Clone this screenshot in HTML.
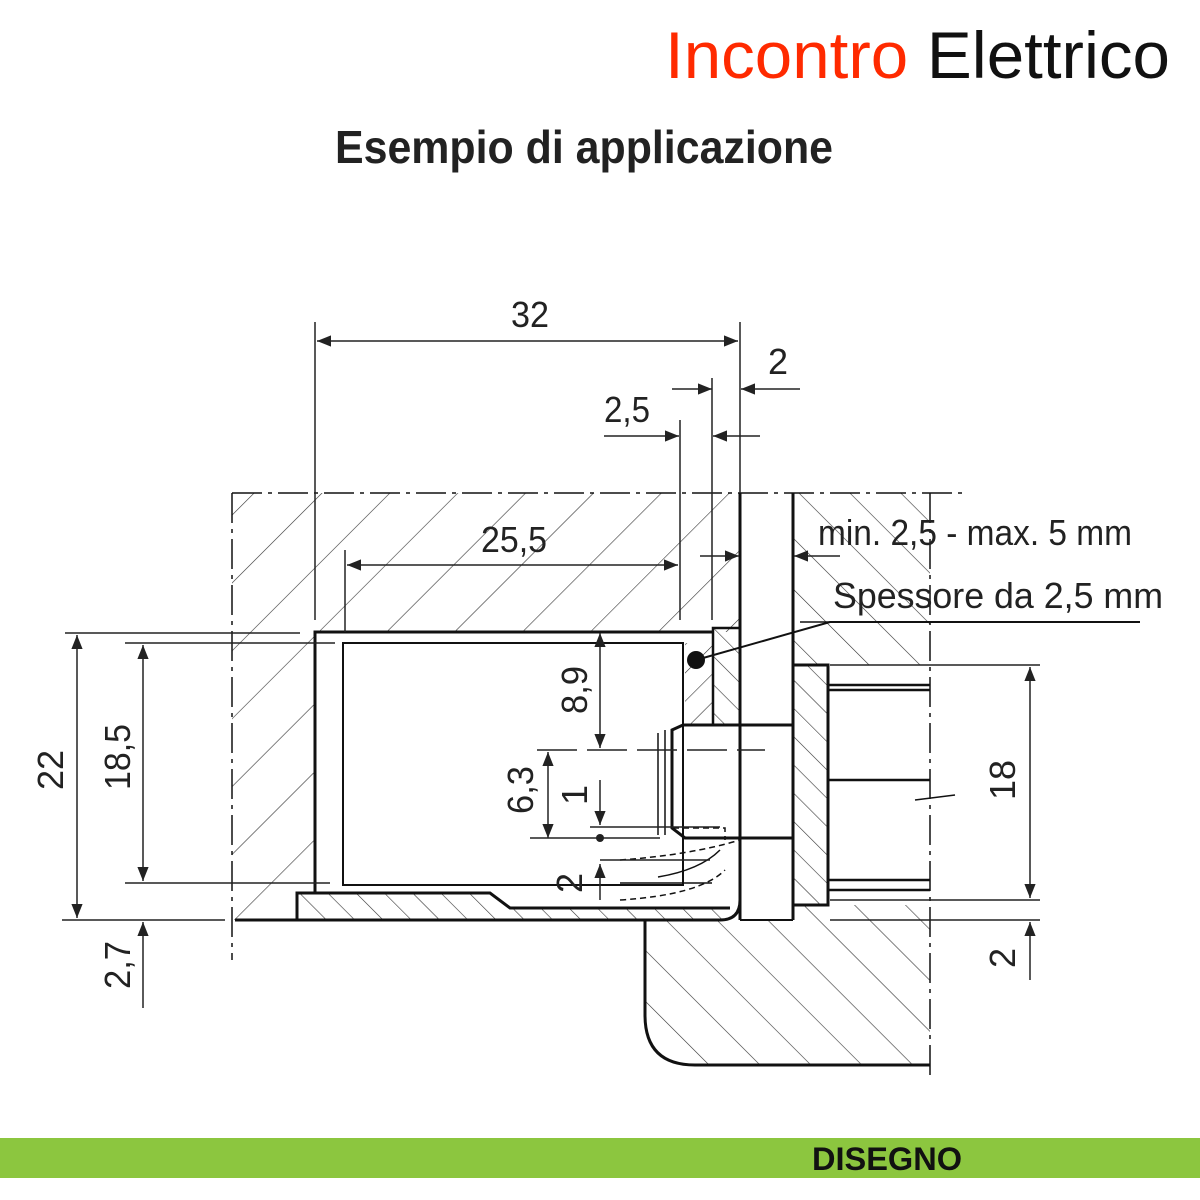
<!DOCTYPE html>
<html><head><meta charset="utf-8"><style>
html,body{margin:0;padding:0;background:#fff}
svg{display:block}
text{font-family:"Liberation Sans",sans-serif}
</style></head><body>
<svg width="1200" height="1200" viewBox="0 0 1200 1200" xmlns="http://www.w3.org/2000/svg">
<defs>
<marker id="a" viewBox="0 0 10 10" refX="10" refY="5" markerWidth="14" markerHeight="14" markerUnits="userSpaceOnUse" orient="auto-start-reverse"><path d="M0,1 L10,5 L0,9z" fill="#222"/></marker>
<pattern id="h1" width="48" height="48" patternUnits="userSpaceOnUse" patternTransform="rotate(45)"><line x1="0" y1="0" x2="0" y2="48" stroke="#333" stroke-width="1.2"/></pattern>
<pattern id="h2" width="36" height="36" patternUnits="userSpaceOnUse" patternTransform="rotate(-45)"><line x1="0" y1="0" x2="0" y2="36" stroke="#333" stroke-width="1.2"/></pattern>
<pattern id="h3" width="20" height="20" patternUnits="userSpaceOnUse" patternTransform="rotate(-45)"><line x1="0" y1="0" x2="0" y2="20" stroke="#333" stroke-width="1.2"/></pattern>
<pattern id="h4" width="20" height="20" patternUnits="userSpaceOnUse" patternTransform="rotate(45)"><line x1="0" y1="0" x2="0" y2="20" stroke="#333" stroke-width="1.2"/></pattern>
</defs>

<text x="665" y="78" font-size="66" textLength="505" lengthAdjust="spacingAndGlyphs"><tspan fill="#ff2a00">Incontro</tspan> <tspan fill="#111">Elettrico</tspan></text>
<text x="335" y="163" font-size="46" font-weight="bold" fill="#222" textLength="498" lengthAdjust="spacingAndGlyphs">Esempio di applicazione</text>

<!-- hatched areas -->
<path d="M232,493 H740 V632 H315 V893 H297 V920 H232Z" fill="url(#h1)"/>
<path d="M297,893 H490 L510,908 H730 V920 H297Z" fill="url(#h3)"/>
<path d="M793,493 H930 V665 H793Z" fill="url(#h2)"/>
<path d="M645,920 H930 V1065 H695 Q645,1065 645,1015Z" fill="url(#h2)"/>
<path d="M793,905 H930 V920 H793Z" fill="url(#h2)"/>
<rect x="713" y="628" width="27" height="97" fill="url(#h3)"/>
<rect x="685" y="643" width="28" height="82" fill="url(#h4)"/>
<rect x="793" y="665" width="35" height="240" fill="url(#h3)"/>

<g stroke="#111" fill="none">
<line x1="232" y1="493" x2="965" y2="493" stroke-width="1.5" stroke-dasharray="30,6,4,6"/>
<line x1="232" y1="493" x2="232" y2="960" stroke-width="1.5" stroke-dasharray="30,6,4,6"/>
<line x1="930" y1="493" x2="930" y2="1080" stroke-width="1.5" stroke-dasharray="30,6,4,6"/>
<path d="M315,893 V632 H713" stroke-width="3"/>
<rect x="343" y="643" width="340" height="242" stroke-width="2"/>
<path d="M235,920 H297 V893 H490 L510,908 H730" stroke-width="3"/>
<path d="M235,920 H720 Q740,920 740,900 V840" stroke-width="3"/>
<line x1="740" y1="493" x2="740" y2="920" stroke-width="3"/>
<line x1="793" y1="493" x2="793" y2="920" stroke-width="3"/>
<line x1="740" y1="920" x2="793" y2="920" stroke-width="2"/>
<rect x="713" y="628" width="27" height="97" stroke-width="2.5"/>
<path d="M793,725 H683 L672,730 V828 L685,838 H793" stroke-width="3"/>
<path d="M665,730 V835 M658,733 V835" stroke-width="1.5"/>
<path d="M673,828 H725 V840" stroke-width="1.5" stroke-dasharray="6,4"/>
<path d="M620,860 Q690,855 740,840 M620,900 Q700,895 725,870" stroke-width="1.5" stroke-dasharray="6,4"/>
<path d="M658,877 Q700,870 720,850 M620,883 H712" stroke-width="1.5"/>
<rect x="793" y="665" width="35" height="240" stroke-width="3"/>
<path d="M828,690 H930 M828,685 H930 M828,880 H930 M828,890 H930 M828,780 H930" stroke-width="2.5"/>
<path d="M915,800 L955,795" stroke-width="1.5"/>
<path d="M645,920 V1015 Q645,1065 695,1065 H930" stroke-width="3"/>
<line x1="800" y1="622" x2="1140" y2="622" stroke-width="1.5"/>
<path d="M696,660 L830,622 H1140" stroke-width="2"/>
</g>
<circle cx="696" cy="660" r="9" fill="#111"/>

<g stroke="#222" stroke-width="1.5" fill="none">
<line x1="315" y1="322" x2="315" y2="620"/>
<line x1="740" y1="322" x2="740" y2="493"/>
<line x1="317" y1="341" x2="738" y2="341" marker-start="url(#a)" marker-end="url(#a)"/>
<line x1="712" y1="378" x2="712" y2="620"/>
<line x1="672" y1="389" x2="712" y2="389" marker-end="url(#a)"/>
<line x1="800" y1="389" x2="741" y2="389" marker-end="url(#a)"/>
<line x1="680" y1="420" x2="680" y2="620"/>
<line x1="604" y1="436" x2="679" y2="436" marker-end="url(#a)"/>
<line x1="760" y1="436" x2="713" y2="436" marker-end="url(#a)"/>
<line x1="345" y1="550" x2="345" y2="632"/>
<line x1="347" y1="565" x2="678" y2="565" marker-start="url(#a)" marker-end="url(#a)"/>
<line x1="700" y1="556" x2="739" y2="556" marker-end="url(#a)"/>
<line x1="840" y1="556" x2="794" y2="556" marker-end="url(#a)"/>
<line x1="65" y1="633" x2="300" y2="633"/>
<line x1="125" y1="643" x2="335" y2="643"/>
<line x1="125" y1="883" x2="330" y2="883"/>
<line x1="62" y1="920" x2="225" y2="920"/>
<line x1="77" y1="635" x2="77" y2="918" marker-start="url(#a)" marker-end="url(#a)"/>
<line x1="143" y1="645" x2="143" y2="881" marker-start="url(#a)" marker-end="url(#a)"/>
<line x1="143" y1="1008" x2="143" y2="922" marker-end="url(#a)"/>
<line x1="600" y1="633" x2="600" y2="748" marker-start="url(#a)" marker-end="url(#a)"/>
<line x1="537" y1="750" x2="765" y2="750" stroke-dasharray="40,10"/>
<line x1="548" y1="752" x2="548" y2="838" marker-start="url(#a)" marker-end="url(#a)"/>
<line x1="530" y1="838" x2="660" y2="838"/>
<line x1="590" y1="827" x2="720" y2="827"/>
<line x1="600" y1="780" x2="600" y2="825" marker-end="url(#a)"/>
<line x1="600" y1="900" x2="600" y2="864" marker-end="url(#a)"/>
<line x1="600" y1="860" x2="710" y2="860"/>
<line x1="830" y1="665" x2="1040" y2="665"/>
<line x1="830" y1="900" x2="1040" y2="900"/>
<line x1="830" y1="920" x2="1040" y2="920"/>
<line x1="1030" y1="667" x2="1030" y2="898" marker-start="url(#a)" marker-end="url(#a)"/>
<line x1="1030" y1="980" x2="1030" y2="922" marker-end="url(#a)"/>
</g>
<circle cx="600" cy="838" r="4" fill="#222"/>

<g font-size="36" fill="#222">
<text x="530" y="327" text-anchor="middle" textLength="38" lengthAdjust="spacingAndGlyphs">32</text>
<text x="778" y="374" text-anchor="middle">2</text>
<text x="627" y="422" text-anchor="middle" textLength="46" lengthAdjust="spacingAndGlyphs">2,5</text>
<text x="514" y="552" text-anchor="middle" textLength="66" lengthAdjust="spacingAndGlyphs">25,5</text>
<text x="818" y="545" textLength="314" lengthAdjust="spacingAndGlyphs">min. 2,5 - max. 5 mm</text>
<text x="833" y="608" textLength="330" lengthAdjust="spacingAndGlyphs">Spessore da 2,5 mm</text>
<text transform="translate(63,770) rotate(-90)" text-anchor="middle">22</text>
<text transform="translate(130,757) rotate(-90)" text-anchor="middle" textLength="66" lengthAdjust="spacingAndGlyphs">18,5</text>
<text transform="translate(130,965) rotate(-90)" text-anchor="middle" textLength="48" lengthAdjust="spacingAndGlyphs">2,7</text>
<text transform="translate(587,690) rotate(-90)" text-anchor="middle" textLength="48" lengthAdjust="spacingAndGlyphs">8,9</text>
<text transform="translate(533,790) rotate(-90)" text-anchor="middle" textLength="48" lengthAdjust="spacingAndGlyphs">6,3</text>
<text transform="translate(587,795) rotate(-90)" text-anchor="middle">1</text>
<text transform="translate(582,883) rotate(-90)" text-anchor="middle">2</text>
<text transform="translate(1015,780) rotate(-90)" text-anchor="middle">18</text>
<text transform="translate(1015,958) rotate(-90)" text-anchor="middle">2</text>
</g>

<rect x="0" y="1138" width="1200" height="40" fill="#8cc63f"/>
<text x="812" y="1170" font-size="32" font-weight="bold" fill="#111" textLength="150" lengthAdjust="spacingAndGlyphs">DISEGNO</text>
</svg>
</body></html>
